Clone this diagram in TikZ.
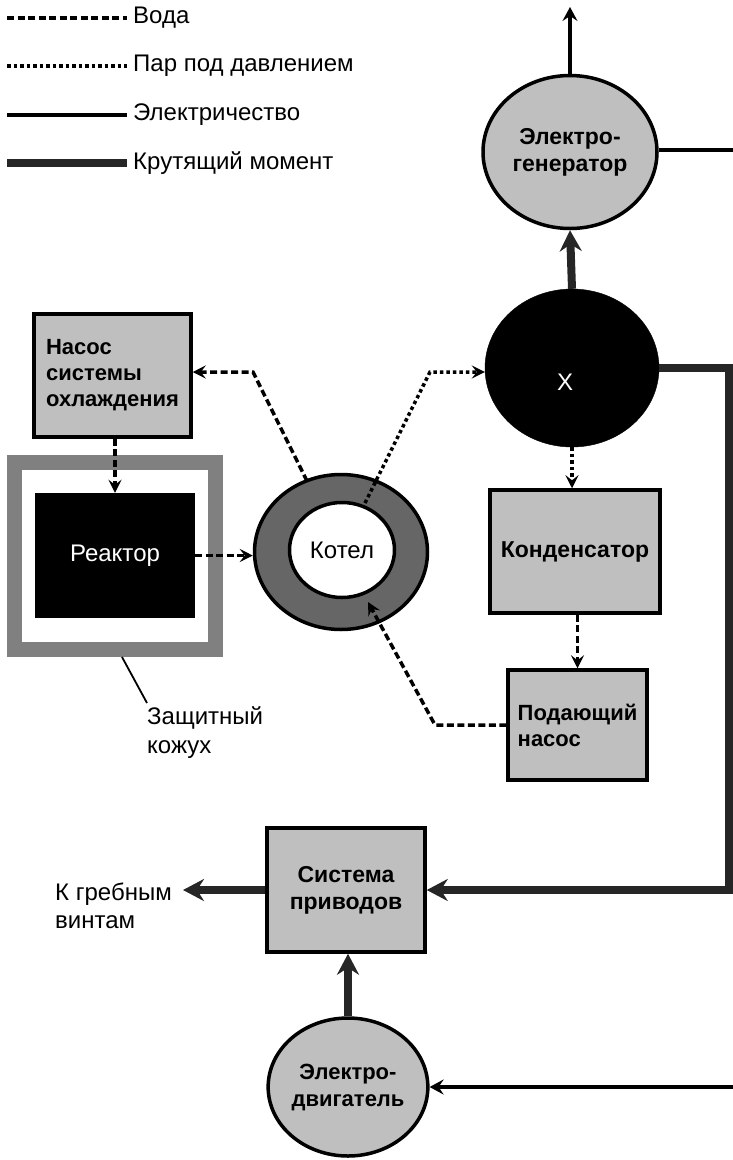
\documentclass[tikz,border=0pt]{standalone}
\usepackage{fontspec}
\setmainfont{Liberation Sans}
\usetikzlibrary{shapes.geometric,arrows.meta}
\begin{document}
\begin{tikzpicture}[x=1pt,y=-1pt,
  every node/.style={font=\fontsize{24}{27}\selectfont, inner sep=0pt},
  gbox/.style={draw=black, line width=3.5pt, fill=black!25, font=\fontsize{23}{27}\selectfont\bfseries},
  gell/.style={ellipse, draw=black, line width=3.5pt, fill=black!25, font=\fontsize{23}{27}\selectfont\bfseries},
  waterline/.style={line width=3.5pt, dash pattern=on 7pt off 3.5pt},
  steamline/.style={line width=3.5pt, dash pattern=on 3.5pt off 3pt},
  elecline/.style={line width=3.5pt},
  torqueline/.style={line width=8pt, draw=black!85},
  water/.style={waterline, -{Stealth[length=13pt,width=13pt,inset=5pt]}},
  steam/.style={steamline, -{Stealth[length=13pt,width=13pt,inset=5pt]}},
  elec/.style={elecline, -{Stealth[length=14pt,width=15pt,inset=5pt]}},
  torque/.style={torqueline, -{Stealth[length=21pt,width=22pt,inset=7pt]}},
]
\useasboundingbox (0,0) rectangle (733,1160);

% legend
\coordinate (la1) at (7,18);  \coordinate (la2) at (127,18);
\coordinate (lb1) at (7,66);  \coordinate (lb2) at (127,66);
\coordinate (lc1) at (7,115); \coordinate (lc2) at (127,115);
\coordinate (ld1) at (7,163); \coordinate (ld2) at (127,163);
\draw[waterline] (la1) -- (la2);
\draw[steamline] (lb1) -- (lb2);
\draw[elecline] (lc1) -- (lc2);
\draw[torqueline] (ld1) -- (ld2);
\node[anchor=west] (ta) at (133,18) {Вода};
\node[anchor=west] (tb) at (133,66) {Пар под давлением};
\node[anchor=west] (tc) at (133,115) {Электричество};
\node[anchor=west] (td) at (133,163) {Крутящий момент};

% generator and turbine X
\node[gell, minimum width=174, minimum height=153, align=center] (gen) at (570,152) {Электро-\\генератор};
\node[ellipse, fill=black, draw=black, minimum width=174, minimum height=158] (X) at (572,368) {};
\node[text=white] (xlab) at (565,382) {X};
\coordinate (gtop) at (570,7);
\coordinate (gright) at (733,150);
\draw[elec] (gen.north) -- (gtop);
\draw[elecline] (gen.east |- gright) -- (gright);
\draw[torque] (X.north) -- (gen.south);

% cooling pump, shield, reactor
\node[gbox, minimum width=157, minimum height=123, align=left, font=\fontsize{22}{26}\selectfont\bfseries] (cp) at (112.5,375.5) {Насос\\системы\\охлаждения};
\node[draw=black!50, line width=15pt, minimum width=201, minimum height=187] (shield) at (115,556) {};
\node[fill=black, minimum width=160, minimum height=125, text=white] (reactor) at (115,555.5) {Реактор};
\draw[water] (reactor.north |- cp.south) -- (reactor.north);

% boiler
\node[ellipse, draw=black, line width=3.5pt, fill=black!60, minimum width=173, minimum height=155] (kotel) at (341,552) {};
\node[ellipse, draw=black, line width=3.5pt, fill=white, minimum width=105, minimum height=95] (kotelin) at (342,550) {Котел};
\draw[water] (reactor.east) -- (kotel.west |- reactor.east);

% steam to X
\coordinate (s0) at (365,503);
\coordinate (s1) at (430,372);
\draw[steam] (s0) -- (s1) -- (X.west |- s1);

% water back to cooling pump
\coordinate (w0) at (307,481);
\coordinate (w1) at (253,372);
\draw[water] (w0) -- (w1) -- (cp.east |- w1);

% condenser and feed pump
\node[gbox, minimum width=170, minimum height=123] (cond) at (575,551.5) {Конденсатор};
\node[gbox, minimum width=139, minimum height=110, align=left, font=\fontsize{22}{26}\selectfont\bfseries] (fp) at (577.5,725) {Подающий\\насос};
\draw[steam] (X.south) -- (X.south |- cond.north);
\draw[water] (fp.north |- cond.south) -- (fp.north);
\coordinate (p1) at (435,725);
\coordinate (p2) at (368,602);
\draw[water] (fp.west) -- (p1) -- (p2);

% shield label
\coordinate (l0) at (122,657);
\coordinate (l1) at (147,703);
\draw[line width=1.8pt] (l0) -- (l1);
\node[anchor=west, align=left, font=\fontsize{24}{29}\selectfont] (lab) at (147,733) {Защитный\\кожух};

% drive system and motor
\node[gbox, minimum width=158, minimum height=124, align=center] (sp) at (346,890) {Система\\приводов};
\node[anchor=west, align=left, font=\fontsize{24}{28}\selectfont] (kg) at (55,906) {К гребным\\винтам};
\coordinate (kge) at (183,890);
\draw[torque] (sp.west) -- (kge);
\node[gell, minimum width=143, minimum height=138, align=center, font=\fontsize{22}{27}\selectfont\bfseries] (mot) at (348,1087) {Электро-\\двигатель};
\draw[torque] (mot.north) -- (mot.north |- sp.south);
\coordinate (e1) at (733,1087);
\draw[elec] (e1) -- (mot.east);

% torque line from X to drive system
\coordinate (r1) at (729,368);
\coordinate (r2) at (729,890);
\draw[torque] (X.east) -- (r1) -- (r2) -- (sp.east);
\end{tikzpicture}
\end{document}
